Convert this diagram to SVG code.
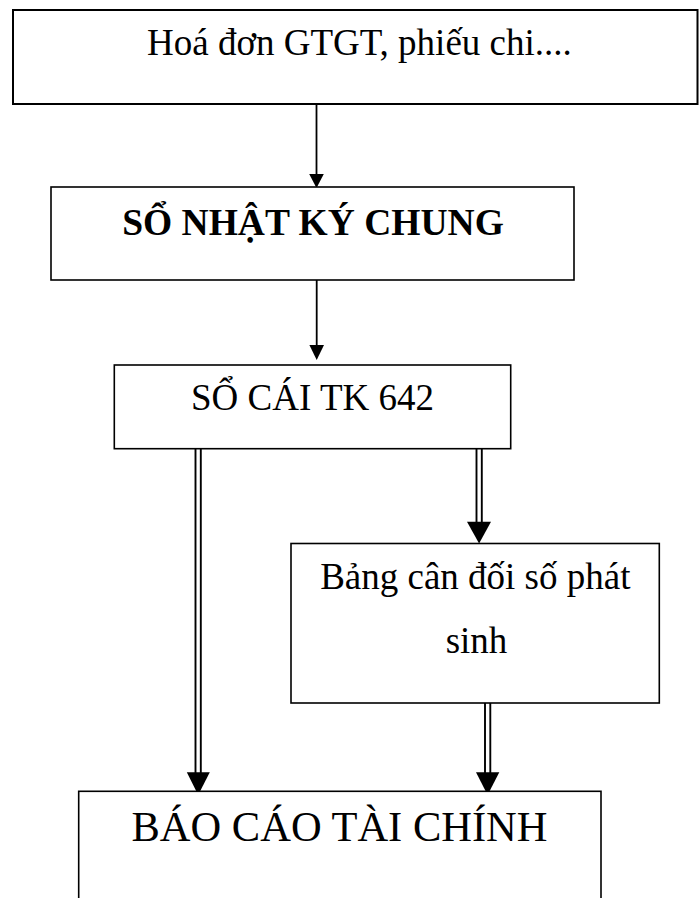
<svg xmlns="http://www.w3.org/2000/svg" width="699" height="898" viewBox="0 0 699 898">
<style>
.box{fill:#fff;stroke:#000;stroke-width:1.6}
.t{font-family:"Liberation Serif","Times New Roman",serif;fill:#000}
.ln{stroke:#000;stroke-width:1.8;fill:none}
.dl{stroke:#000;stroke-width:1.9;fill:none}
.ah{fill:#000;stroke:none}
</style>
<rect x="0" y="0" width="699" height="898" fill="#fff"/>
<g id="connectors">
  <line class="ln" x1="316.5" y1="104" x2="316.5" y2="176"/>
  <polygon class="ah" points="309.2,174 323.8,174 316.5,188"/>
  <line class="ln" x1="316.7" y1="280" x2="316.7" y2="347"/>
  <polygon class="ah" points="309.4,345 324,345 316.7,360"/>
  <line class="dl" x1="195.5" y1="449" x2="195.5" y2="774"/>
  <line class="dl" x1="200.8" y1="449" x2="200.8" y2="774"/>
  <polygon class="ah" points="186.8,772.3 209.8,772.3 198.2,795"/>
  <line class="dl" x1="476.5" y1="449" x2="476.5" y2="524"/>
  <line class="dl" x1="481.8" y1="449" x2="481.8" y2="524"/>
  <polygon class="ah" points="467,521.7 491,521.7 479.1,543.5"/>
  <line class="dl" x1="485" y1="703" x2="485" y2="774"/>
  <line class="dl" x1="490.3" y1="703" x2="490.3" y2="774"/>
  <polygon class="ah" points="476,772.3 499.3,772.3 487.6,795"/>
</g>
<g id="n-hoadon">
  <rect class="box" x="13" y="10" width="684.5" height="94" style="stroke-width:2"/>
  <text class="t" x="147" y="55" font-size="37">Hoá đơn GTGT, phiếu chi....</text>
</g>
<g id="n-nhatky">
  <rect class="box" x="51" y="187" width="523" height="93"/>
  <text class="t" x="313" y="235" font-size="37.5" font-weight="bold" text-anchor="middle">SỔ NHẬT KÝ CHUNG</text>
</g>
<g id="n-socai">
  <rect class="box" x="114.3" y="365" width="396.4" height="83.7"/>
  <text class="t" x="312.5" y="410" font-size="37" text-anchor="middle">SỔ CÁI TK 642</text>
</g>
<g id="n-bang">
  <rect class="box" x="291" y="543.5" width="368.3" height="159.5"/>
  <text class="t" x="475.3" y="589" font-size="37" text-anchor="middle">Bảng cân đối số phát</text>
  <text class="t" x="476.5" y="653" font-size="37" text-anchor="middle">sinh</text>
</g>
<g id="n-baocao">
  <rect class="box" x="78.7" y="791.3" width="522.3" height="120"/>
  <text class="t" x="339.5" y="841.3" font-size="42.5" text-anchor="middle">BÁO CÁO TÀI CHÍNH</text>
</g>
</svg>
